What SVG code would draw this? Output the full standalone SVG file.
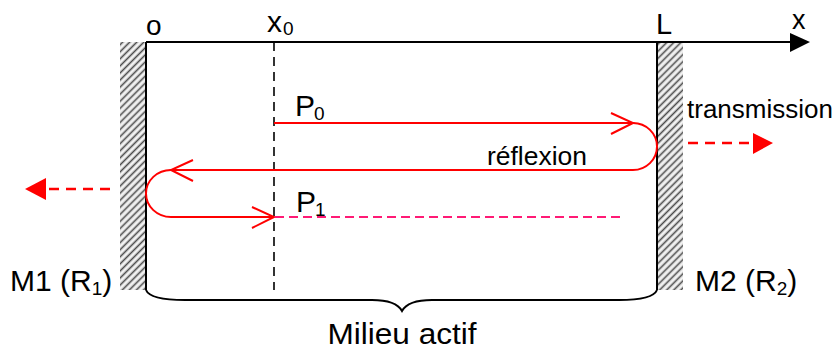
<svg xmlns="http://www.w3.org/2000/svg" width="835" height="351" viewBox="0 0 835 351">
<style>
text{font-family:"Liberation Sans",Arial,sans-serif;fill:#000}
.lbl{font-size:30px}
.sub{font-size:19px}
.beam{fill:none;stroke:#ff0000;stroke-width:2}
.blk{fill:none;stroke:#000;stroke-width:2}
.hatch{fill:url(#hatch)}
</style>
<defs>
<pattern id="hatch" patternUnits="userSpaceOnUse" width="5" height="5" patternTransform="rotate(45)">
<rect width="5" height="5" fill="#f2f2f2"/>
<line x1="1.5" y1="0" x2="1.5" y2="5" stroke="#4a4a4a" stroke-width="1.6"/>
</pattern>
</defs>
<g id="mirror-M1">
<rect class="hatch" x="120" y="42" width="26" height="248"/>
<line class="blk" x1="146" y1="42" x2="146" y2="290"/>
<text class="lbl" x="10" y="291">M1 (R<tspan class="sub" dy="4">1</tspan><tspan dy="-4">)</tspan></text>
</g>
<g id="mirror-M2">
<rect class="hatch" x="657" y="42" width="26" height="248"/>
<line class="blk" x1="657" y1="42" x2="657" y2="290"/>
<text class="lbl" x="695" y="291">M2 (R<tspan class="sub" dy="4">2</tspan><tspan dy="-4">)</tspan></text>
</g>
<g id="axis">
<line class="blk" x1="146" y1="42" x2="792" y2="42"/>
<polygon points="790,33 810,42 790,52" fill="#000"/>
<text x="792" y="29" style="font-size:27px">x</text>
<text class="lbl" x="146" y="35" style="font-size:28px">o</text>
<text x="267" y="32" style="font-size:30px">x</text>
<text class="sub" x="283" y="35">0</text>
<text class="lbl" x="656" y="34" style="font-size:29px">L</text>
</g>
<g id="x0-line">
<line x1="274" y1="42" x2="274" y2="290" stroke="#000" stroke-width="1.6" stroke-dasharray="9,6"/>
</g>
<g id="connectors">
<path class="beam" d="M274,123 H633 A24,23.5 0 0 1 633,170 H171 A25,23.5 0 0 0 171,217 H274"/>
<polyline class="beam" points="611,113 633,123 611,134"/>
<polyline class="beam" points="193,160 171,170 193,181"/>
<polyline class="beam" points="252,207 274,217 252,228"/>
<line x1="275" y1="217" x2="620" y2="217" stroke="#ff1a75" stroke-width="1.8" stroke-dasharray="9,5"/>
<line x1="688" y1="143" x2="755" y2="143" stroke="#ff0000" stroke-width="2.4" stroke-dasharray="10,7"/>
<polygon points="753,133 773,143 753,154" fill="#ff0000"/>
<line x1="110" y1="189" x2="44" y2="189" stroke="#ff0000" stroke-width="2.4" stroke-dasharray="10,7"/>
<polygon points="46,178 25,189 46,200" fill="#ff0000"/>
</g>
<g id="beam-labels">
<text class="lbl" x="295" y="116">P</text>
<text class="sub" x="314" y="120">0</text>
<text class="lbl" x="296" y="212">P</text>
<text class="sub" x="315" y="216">1</text>
<text x="487" y="165" style="font-size:26px" textLength="100" lengthAdjust="spacingAndGlyphs">réflexion</text>
<text x="687" y="118" style="font-size:26px" textLength="146" lengthAdjust="spacingAndGlyphs">transmission</text>
</g>
<g id="brace">
<path class="blk" d="M146,290 Q150,300 185,300 L372,300 Q396,300 402,311 Q408,300 432,300 L619,300 Q653,300 657,290"/>
<text class="lbl" x="402" y="344" text-anchor="middle" textLength="149" lengthAdjust="spacingAndGlyphs">Milieu actif</text>
</g>
</svg>
